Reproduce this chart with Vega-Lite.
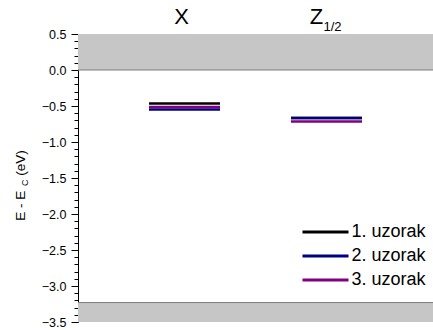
{
  "$schema": "https://vega.github.io/schema/vega-lite/v6.json",
  "width": 355,
  "height": 288,
  "autosize": {"type": "none"},
  "padding": {"left": 78, "top": 34, "right": 0, "bottom": 8},
  "background": "white",
  "config": {
    "view": {"stroke": null},
    "font": "Liberation Sans"
  },
  "resolve": {"axis": {"y": "independent"}},
  "datasets": {
    "bands": [
      {"lo": 0, "hi": 0.5},
      {"lo": -3.5, "hi": -3.23}
    ],
    "edges": [
      {"edge": 0},
      {"edge": -3.23}
    ],
    "levels": [
      {"point": "X", "sample": "1. uzorak", "from": 2, "to": 4, "E": -0.464},
      {"point": "X", "sample": "2. uzorak", "from": 2, "to": 4, "E": -0.548},
      {"point": "X", "sample": "3. uzorak", "from": 2, "to": 4, "E": -0.514},
      {"point": "Z1/2", "sample": "1. uzorak", "from": 6, "to": 8, "E": -0.667},
      {"point": "Z1/2", "sample": "2. uzorak", "from": 6, "to": 8, "E": -0.667},
      {"point": "Z1/2", "sample": "3. uzorak", "from": 6, "to": 8, "E": -0.715}
    ]
  },
  "layer": [
    {
      "data": {"name": "bands"},
      "mark": {"type": "rect", "color": "#c6c6c6"},
      "encoding": {
        "y": {
          "field": "lo",
          "type": "quantitative",
          "scale": {"domain": [-3.5, 0.5], "nice": false, "zero": false},
          "axis": {
            "orient": "left",
            "values": [0.5, 0.4, 0.3, 0.2, 0.1, 0, -0.1, -0.2, -0.3, -0.4, -0.5, -0.6, -0.7, -0.8, -0.9, -1, -1.1, -1.2, -1.3, -1.4, -1.5, -1.6, -1.7, -1.8, -1.9, -2, -2.1, -2.2, -2.3, -2.4, -2.5, -2.6, -2.7, -2.8, -2.9, -3, -3.1, -3.2, -3.3, -3.4, -3.5],
            "labelExpr": "abs(datum.value * 2 - round(datum.value * 2)) < 0.001 ? format(datum.value, '.1f') : ''",
            "tickSize": {"condition": {"test": "abs(datum.value * 2 - round(datum.value * 2)) < 0.001", "value": 7}, "value": 4},
            "grid": false,
            "domainColor": "black",
            "tickColor": "black",
            "labelColor": "black",
            "labelFontSize": 12.5,
            "labelPadding": 5,
            "labelFlush": false,
            "labelOverlap": false,
            "labelBound": false,
            "title": "E - E\u00a0\u00a0\u00a0 (eV)",
            "titleFontSize": 13.5,
            "titleFontWeight": "normal",
            "titleColor": "black",
            "titleAngle": 270,
            "titleAlign": "center",
            "titleBaseline": "alphabetic",
            "titleX": -53.5,
            "titleY": 151
          }
        },
        "y2": {"field": "hi"}
      }
    },
    {
      "data": {"name": "edges"},
      "mark": {"type": "rule", "color": "#7f7f7f", "strokeWidth": 1},
      "encoding": {"y": {"field": "edge", "type": "quantitative", "axis": null}}
    },
    {
      "data": {"name": "levels"},
      "mark": {"type": "rule", "strokeWidth": 2.5},
      "encoding": {
        "x": {"field": "from", "type": "quantitative", "scale": {"domain": [0, 10], "nice": false}, "axis": null},
        "x2": {"field": "to"},
        "y": {"field": "E", "type": "quantitative", "axis": null},
        "color": {
          "field": "sample",
          "type": "nominal",
          "scale": {"domain": ["1. uzorak", "2. uzorak", "3. uzorak"], "range": ["#000000", "#000080", "#800080"]},
          "legend": {
            "title": null,
            "orient": "none",
            "legendX": 234.5,
            "legendY": 185,
            "padding": 0,
            "symbolType": "M-2,0H2",
            "symbolSize": 529,
            "symbolStrokeWidth": 3,
            "labelFontSize": 18,
            "labelColor": "black",
            "labelOffset": 13,
            "rowPadding": 2
          }
        },
        "order": {"field": "sample"}
      }
    },
    {
      "data": {"values": [{"name": "X"}]},
      "mark": {"type": "text", "fontSize": 22, "baseline": "alphabetic", "align": "center", "dy": -10, "dx": -3, "clip": false},
      "encoding": {
        "text": {"field": "name"},
        "x": {"datum": 3, "type": "quantitative"},
        "y": {"datum": 0.5, "type": "quantitative", "axis": null}
      }
    },
    {
      "data": {"values": [{"name": "Z"}]},
      "mark": {"type": "text", "fontSize": 22, "baseline": "alphabetic", "align": "center", "dy": -10, "dx": -10, "clip": false},
      "encoding": {
        "text": {"field": "name"},
        "x": {"datum": 7, "type": "quantitative"},
        "y": {"datum": 0.5, "type": "quantitative", "axis": null}
      }
    },
    {
      "data": {"values": [{"sub": "1/2"}]},
      "mark": {"type": "text", "fontSize": 13, "baseline": "alphabetic", "align": "left", "dy": -3, "dx": -3, "clip": false},
      "encoding": {
        "text": {"field": "sub"},
        "x": {"datum": 7, "type": "quantitative"},
        "y": {"datum": 0.5, "type": "quantitative", "axis": null}
      }
    },
    {
      "data": {"values": [{"sub": "C"}]},
      "mark": {"type": "text", "fontSize": 9, "baseline": "alphabetic", "align": "center", "angle": 270, "clip": false},
      "encoding": {
        "text": {"field": "sub"},
        "x": {"datum": -1.408, "type": "quantitative"},
        "y": {"datum": -1.566, "type": "quantitative", "axis": null}
      }
    }
  ]
}
